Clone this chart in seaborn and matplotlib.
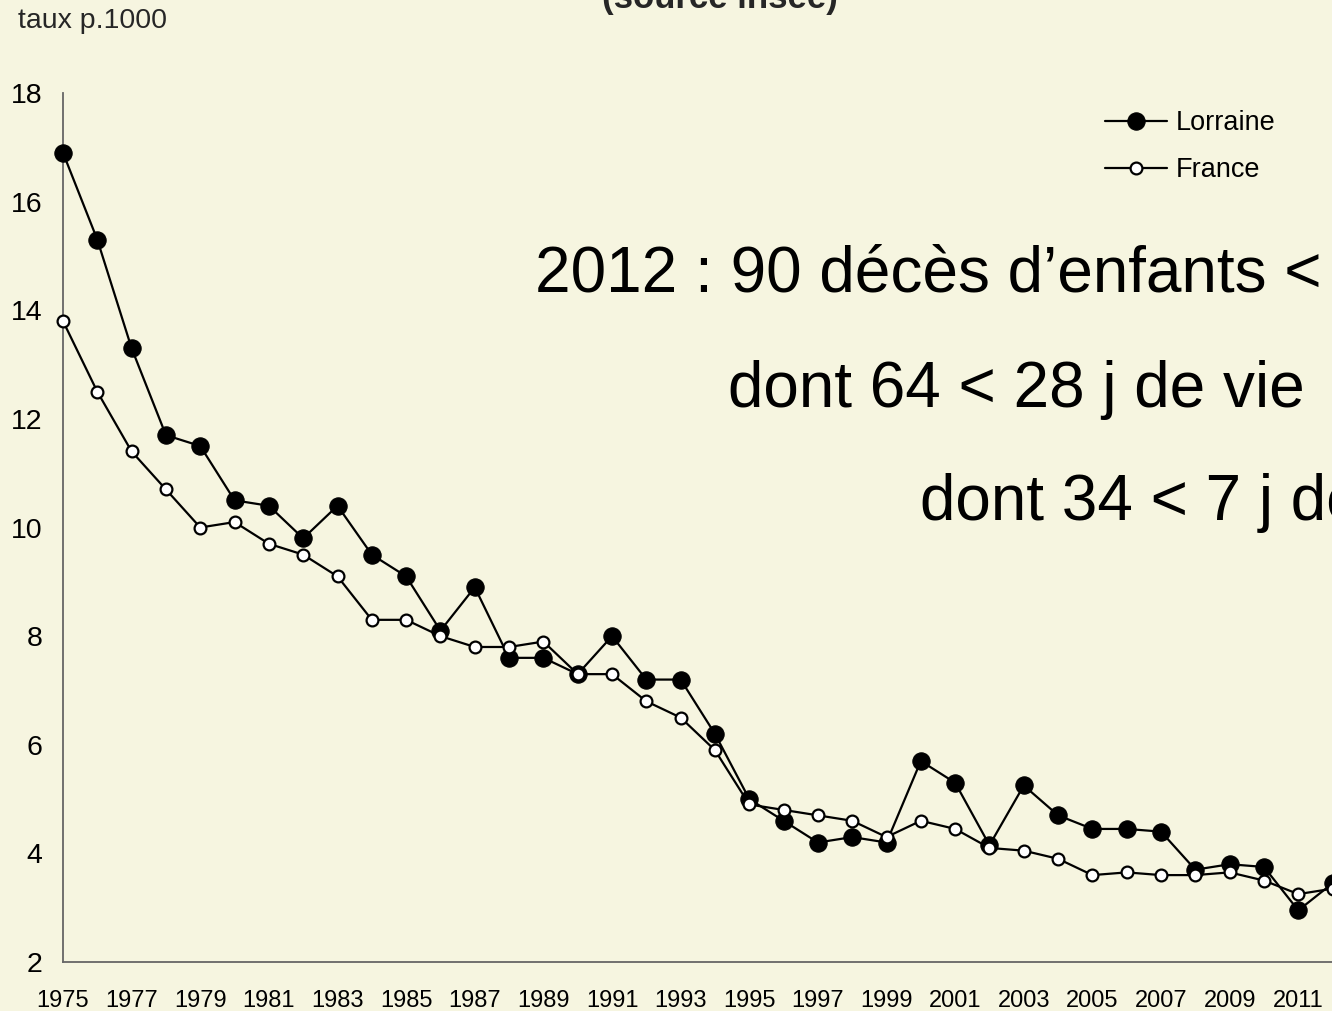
import matplotlib
matplotlib.use("Agg")
import matplotlib.pyplot as plt
import seaborn as sns
import pandas as pd

years = list(range(1975, 2013))
lorraine = [16.9, 15.3, 13.3, 11.7, 11.5, 10.5, 10.4, 9.8, 10.4, 9.5,
            9.1, 8.1, 8.9, 7.6, 7.6, 7.3, 8.0, 7.2, 7.2, 6.2,
            5.0, 4.6, 4.2, 4.3, 4.2, 5.7, 5.3, 4.15, 5.25, 4.7,
            4.45, 4.45, 4.4, 3.7, 3.8, 3.75, 2.95, 3.45]
france = [13.8, 12.5, 11.4, 10.7, 10.0, 10.1, 9.7, 9.5, 9.1, 8.3,
          8.3, 8.0, 7.8, 7.8, 7.9, 7.3, 7.3, 6.8, 6.5, 5.9,
          4.9, 4.8, 4.7, 4.6, 4.3, 4.6, 4.45, 4.1, 4.05, 3.9,
          3.6, 3.65, 3.6, 3.6, 3.65, 3.5, 3.25, 3.35]
series_names = ["Lorraine", "France"]
x_tick_labels = [str(y) if (y - 1975) % 2 == 0 else "" for y in years]
y_ticks = [2, 4, 6, 8, 10, 12, 14, 16, 18]
y_label = "taux p.1000"
title = "(source insee)"
notes = ["2012 : 90 décès d\u2019enfants < 1 an",
         "dont 64 < 28 j de vie",
         "dont 34 < 7 j de vie"]

df = pd.DataFrame({"annee": years, "Lorraine": lorraine, "France": france})

sns.set_style("white")
bg = "#F6F5E0"
plt.rcParams["font.family"] = ["Liberation Sans", "DejaVu Sans"]

W, H = 1332, 1011
fig = plt.figure(figsize=(W / 100, H / 100), dpi=100, facecolor=bg)

x0, x1 = 63, 1332.6
yb, yt = 962, 93
ax = fig.add_axes([x0 / W, (H - yb) / H, (x1 - x0) / W, (yb - yt) / H])
ax.set_facecolor(bg)

sns.lineplot(data=df, x="annee", y="Lorraine", ax=ax, color="black", lw=1.6,
             marker="o", markersize=12.5, markerfacecolor="black",
             markeredgecolor="black", label=series_names[0], clip_on=False,
             zorder=3)
sns.lineplot(data=df, x="annee", y="France", ax=ax, color="black", lw=1.6,
             marker="o", markersize=8.5, markerfacecolor="white",
             markeredgecolor="black", markeredgewidth=1.6,
             label=series_names[1], clip_on=False, zorder=4)

ax.set_xlim(1975, 2012)
ax.set_ylim(2, 18)
ax.set_xticks(years)
ax.set_xticklabels(x_tick_labels)
ax.set_yticks(y_ticks)
ax.set_yticklabels([str(v) for v in y_ticks])
ax.set_xlabel("")
ax.set_ylabel("")

for s in ["top", "right"]:
    ax.spines[s].set_visible(False)
for s in ["left", "bottom"]:
    ax.spines[s].set_color("#666666")
    ax.spines[s].set_linewidth(1.3)

ax.tick_params(axis="both", which="both", direction="in", length=6.5,
               width=1.1, color="#666666", labelcolor="black")
ax.tick_params(axis="y", pad=15, labelsize=20.5)
ax.tick_params(axis="x", pad=20, labelsize=17)

leg = ax.legend(loc="upper left", bbox_to_anchor=(1105 / W, (H - 110) / H),
                bbox_transform=fig.transFigure, frameon=False,
                fontsize=19.5, handlelength=2.3, handletextpad=0.3,
                labelspacing=0.78, borderpad=0, borderaxespad=0)
for t in leg.get_texts():
    t.set_color("black")

fig.text(18 / W, (H - 21) / H, y_label, fontsize=20.5, ha="left", va="center")
fig.text(720 / W, (H - 8) / H, title, fontsize=25, fontweight="bold",
         ha="center", va="baseline")

note_x = [535, 728, 920]
note_base = [292, 407, 520]
for txt, nx, nb in zip(notes, note_x, note_base):
    fig.text(nx / W, (H - nb) / H, txt, fontsize=46, ha="left",
             va="baseline", color="black")

fig.savefig("out.png", dpi=100, facecolor=bg)
